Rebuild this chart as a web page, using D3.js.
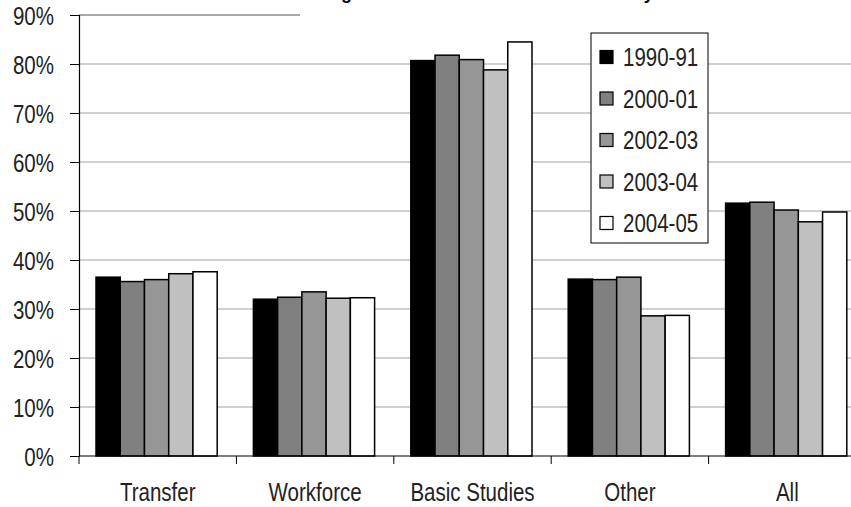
<!DOCTYPE html>
<html>
<head>
<meta charset="utf-8">
<script src="https://cdn.jsdelivr.net/npm/d3@7"></script>
<style>
  body { margin: 0; background: #fff; }
  svg text { font-family: "Liberation Sans", Arial, sans-serif; }
</style>
</head>
<body>
<svg id="chart" width="851" height="507"></svg>
<script>
// Data ----------------------------------------
const categories = ["Transfer", "Workforce", "Basic Studies", "Other", "All"];
const seriesNames = ["1990-91", "2000-01", "2002-03", "2003-04", "2004-05"];
const seriesValues = [
    [36.5, 32.0, 80.7, 36.1, 51.6],   // 1990-91
    [35.6, 32.4, 81.8, 36.0, 51.8],   // 2000-01
    [36.0, 33.5, 80.9, 36.5, 50.2],   // 2002-03
    [37.2, 32.2, 78.8, 28.6, 47.8],   // 2003-04
    [37.6, 32.3, 84.5, 28.7, 49.8]    // 2004-05
];
const yTicks = [0, 10, 20, 30, 40, 50, 60, 70, 80, 90];
const colors = ["#000000", "#808080", "#969696", "#c0c0c0", "#ffffff"];
const titleText = "Percentage of Students Enrolled Full-Time by";

let svg = d3.select("#chart");

// no narrow font installed, so squeeze the regular one
function narrow(sel, px, py) {
    sel.attr("transform", (d, i) => `translate(${px(d, i)},${py(d, i)}) scale(0.82,1)`)
        .attr("x", 0).attr("y", 0);
}

// Scales
let x = d3.scaleBand().domain(categories).range([79, 866]).padding(0);
let bw = x.bandwidth();
let xInner = d3.scaleBand().domain(seriesNames).range([17, 17 + bw * 0.77]).padding(0);
let y = d3.scaleLinear().domain([0, 90]).range([456, 15]);

// Gridlines
svg.append("g")
    .selectAll("line")
    .data(yTicks.filter(d => d > 0))
    .enter().append("line")
    .attr("x1", 79).attr("x2", 851)
    .attr("y1", d => y(d)).attr("y2", d => y(d))
    .attr("stroke", d => d === 90 ? "#8c8c8c" : "#c0c0c0")
    .attr("stroke-width", 1.5);

// Bars
let groups = svg.append("g")
    .selectAll("g")
    .data(seriesNames)
    .enter().append("g")
    .attr("fill", (d, i) => colors[i]);

groups.selectAll("rect")
    .data((s, i) => categories.map((c, j) => ({ series: s, cat: c, value: seriesValues[i][j] })))
    .enter().append("rect")
    .attr("x", d => x(d.cat) + xInner(d.series))
    .attr("width", xInner.bandwidth())
    .attr("y", d => y(d.value))
    .attr("height", d => y(0) - y(d.value))
    .attr("stroke", "#000")
    .attr("stroke-width", 1.5);

// Y axis
let yAxis = svg.append("g")
    .attr("transform", "translate(79,0)")
    .call(d3.axisLeft(y).tickValues(yTicks).tickSize(9).tickFormat(d => d + "%"));
yAxis.select(".domain").attr("stroke", "#000").attr("stroke-width", 1.2);
yAxis.selectAll(".tick line").attr("stroke", "#000");
yAxis.selectAll("text")
    .attr("font-size", "25px")
    .attr("fill", "#222")
    .attr("dy", "0.36em")
    .style("font-family", "'Liberation Sans', Arial, sans-serif")
    .call(narrow, () => -25, () => 0);

// X axis
let xAxis = svg.append("g")
    .attr("transform", "translate(0,456)");
xAxis.append("line")
    .attr("x1", 79).attr("x2", 851)
    .attr("stroke", "#000").attr("stroke-width", 1.2);
xAxis.selectAll("line.tick")
    .data(categories)
    .enter().append("line")
    .attr("class", "tick")
    .attr("x1", d => x(d)).attr("x2", d => x(d))
    .attr("y1", 0).attr("y2", 8)
    .attr("stroke", "#000");
xAxis.selectAll("text")
    .data(categories)
    .enter().append("text")
    .attr("text-anchor", "middle")
    .attr("font-size", "25px")
    .attr("fill", "#222")
    .text(d => d)
    .call(narrow, d => x(d) + bw / 2, () => 45);

// Title, mostly cut off by the top edge
svg.append("rect")
    .attr("x", 300).attr("y", 0)
    .attr("width", 551).attr("height", 17)
    .attr("fill", "#fff");
let title = svg.append("text")
    .attr("x", 0).attr("y", -1)
    .attr("font-size", "18px")
    .attr("font-weight", "bold")
    .text(titleText);
// line up the descender of the "g" with the reference
let gIdx = titleText.indexOf("g");
let gPos = title.node().getStartPositionOfChar(gIdx).x;
title.attr("x", 341 - gPos);

// Legend
let legend = svg.append("g").attr("transform", "translate(591,33)");
legend.append("rect")
    .attr("width", 117).attr("height", 210)
    .attr("fill", "#fff").attr("stroke", "#000").attr("stroke-width", 1);
let items = legend.selectAll("g.item")
    .data(seriesNames)
    .enter().append("g")
    .attr("class", "item")
    .attr("transform", (d, i) => `translate(9, ${24 + i * 41.5})`);
items.append("rect")
    .attr("x", 0).attr("y", -6.5)
    .attr("width", 13).attr("height", 13)
    .attr("fill", (d, i) => colors[i])
    .attr("stroke", "#000").attr("stroke-width", 1.2);
items.append("text")
    .attr("dy", "0.36em")
    .attr("font-size", "25px")
    .attr("fill", "#222")
    .text(d => d)
    .call(narrow, () => 23, () => 0);
</script>
</body>
</html>
